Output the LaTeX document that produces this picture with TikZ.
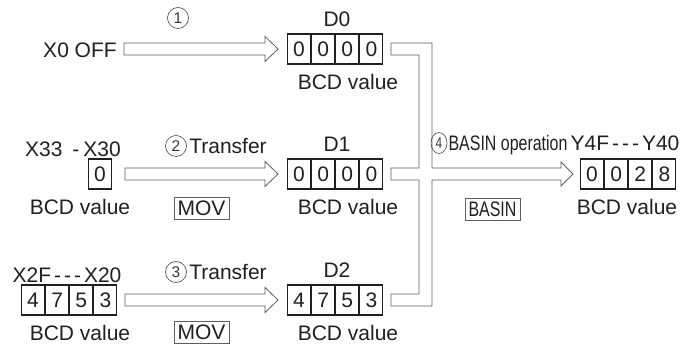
\documentclass[tikz,border=0pt]{standalone}
\usepackage{fontspec}
\setmainfont{Liberation Sans}
\usepackage{graphicx}
\usetikzlibrary{calc}
\definecolor{ink}{HTML}{231F20}
\definecolor{arrgray}{HTML}{5E5E5E}
\newcommand\ddd{\hspace{3pt}-\hspace{3pt}-\hspace{3pt}-\hspace{3pt}}
\newcommand\fatarr[2]{\draw[fat] ($(#1)+(0,-6)$) -- ($(#2)+(-13,-6)$) -- ($(#2)+(-13,-12.5)$) -- (#2) -- ($(#2)+(-13,12.5)$) -- ($(#2)+(-13,6)$) -- ($(#1)+(0,6)$) -- cycle;}
\tikzset{
 lbl/.style={inner sep=0pt, text height=15pt, text depth=0pt, font=\fontsize{21}{25}\selectfont, text=ink},
 circ/.style={circle, draw=ink!85, line width=0.6pt, minimum size=21pt, inner sep=0pt, text height=11pt, text depth=0pt, font=\fontsize{15.5}{15.5}\selectfont, text=ink!90},
 cell/.style={lbl, draw=ink, line width=1.1pt, minimum width=23pt, minimum height=30pt, anchor=west},
 opbox/.style={lbl, draw=arrgray, line width=0.8pt, minimum width=55pt, minimum height=22pt},
 fat/.style={draw=arrgray, line width=0.8pt, fill=white, line join=miter},
}
\begin{document}
\begin{tikzpicture}[x=1pt,y=-1pt]
\useasboundingbox (0,0) rectangle (688,344);
% ---- row 1
\node[circ] (c1) at (178,18) {1};
\node[lbl] (x0) at (80,50) {X0 OFF};
\node[lbl] (d0lbl) at (337,19) {D0};
\node[cell] (d0a) at (287,49) {0};
\node[cell] (d0b) at (d0a.east) {0};
\node[cell] (d0c) at (d0b.east) {0};
\node[cell] (d0d) at (d0c.east) {0};
\node[lbl] (d0bcd) at (348,82) {BCD value};
\coordinate (a1s) at (124,49);
\coordinate (a1e) at ($(d0a.west)+(-9,0)$);
\fatarr{a1s}{a1e}
% ---- row 2
\node[lbl] (x33) at (73,149) {X33\hspace{10pt}-\hspace{4pt}X30};
\node[cell] (s0) at (88,174) {0};
\node[lbl] (s0bcd) at (80,207) {BCD value};
\node[circ] (c2) at (176,146) {2};
\node[lbl] (t2) at (228,146) {Transfer};
\node[opbox] (mov1) at (201.5,208) {MOV};
\node[lbl] (d1lbl) at (337,144) {D1};
\node[cell] (d1a) at (287,174) {0};
\node[cell] (d1b) at (d1a.east) {0};
\node[cell] (d1c) at (d1b.east) {0};
\node[cell] (d1d) at (d1c.east) {0};
\node[lbl] (d1bcd) at (348,207) {BCD value};
\coordinate (a2s) at (125,174);
\coordinate (a2e) at ($(d1a.west)+(-9,0)$);
\fatarr{a2s}{a2e}
% ---- row 3
\node[lbl] (x2f) at (67,275) {X2F\ddd X20};
\node[cell] (s1a) at (21,300) {4};
\node[cell] (s1b) at (s1a.east) {7};
\node[cell] (s1c) at (s1b.east) {5};
\node[cell] (s1d) at (s1c.east) {3};
\node[lbl] (s1bcd) at (80,333) {BCD value};
\node[circ] (c3) at (176,272) {3};
\node[lbl] (t3) at (228,272) {Transfer};
\node[opbox] (mov2) at (201.5,332) {MOV};
\node[lbl] (d2lbl) at (337,270) {D2};
\node[cell] (d2a) at (287,300) {4};
\node[cell] (d2b) at (d2a.east) {7};
\node[cell] (d2c) at (d2b.east) {5};
\node[cell] (d2d) at (d2c.east) {3};
\node[lbl] (d2bcd) at (348,333) {BCD value};
\coordinate (a3s) at (125,300);
\coordinate (a3e) at ($(d2a.west)+(-9,0)$);
\fatarr{a3s}{a3e}
% ---- merge arrow
\draw[fat] (391,43) -- (432,43) -- (432,168) -- (561,168) -- (561,162) -- (573,174) -- (561,186) -- (561,180) -- (432,180) -- (432,306) -- (391,306) -- (391,294) -- (419,294) -- (419,180) -- (391,180) -- (391,168) -- (419,168) -- (419,55) -- (391,55) -- cycle;
% ---- right
\node[circ, xscale=0.76, transform shape] (c4) at (439,143) {4};
\node[lbl] (t4) at (508,143) {\scalebox{0.76}[1]{BASIN operation}};
\node[lbl] (ylbl) at (625,143) {Y4F\ddd Y40};
\node[cell] (ya) at (580,174) {0};
\node[cell] (yb) at (ya.east) {0};
\node[cell] (yc) at (yb.east) {2};
\node[cell] (yd) at (yc.east) {8};
\node[lbl] (ybcd) at (627,207) {BCD value};
\node[opbox] (basin) at (492.5,209) {\scalebox{0.76}[1]{BASIN}};
\end{tikzpicture}
\end{document}
